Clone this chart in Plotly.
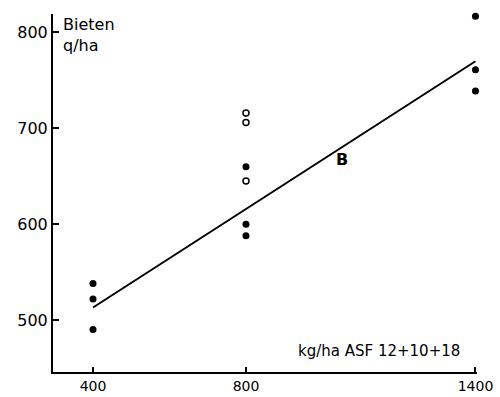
import plotly.graph_objects as go

# Data
x_filled = [400, 400, 400, 800, 800, 800, 1400, 1400, 1400]
y_filled = [538, 522, 490, 660, 600, 588, 817, 761, 739]
x_open = [800, 800, 800]
y_open = [716, 706, 645]
line_x = [400, 1400]
line_y = [513, 770]
x_ticks = [400, 800, 1400]
y_ticks = [500, 600, 700, 800]

font = "DejaVu Sans"
fig = go.Figure()
fig.add_trace(go.Scatter(x=line_x, y=line_y, mode="lines",
                         line=dict(color="black", width=2), showlegend=False))
fig.add_trace(go.Scatter(x=x_filled, y=y_filled, mode="markers", cliponaxis=False,
                         marker=dict(color="black", size=7), showlegend=False))
fig.add_trace(go.Scatter(x=x_open, y=y_open, mode="markers", cliponaxis=False,
                         marker=dict(color="white", size=6, line=dict(color="black", width=1.5)),
                         showlegend=False))

fig.add_annotation(x=1052, y=667, text="<b>B</b>", showarrow=False,
                   font=dict(family=font, size=16, color="black"))
fig.add_annotation(x=0.02, y=1.003, xref="paper", yref="paper",
                   text="Bieten<br>q/ha", showarrow=False, align="left",
                   xanchor="left", yanchor="top",
                   font=dict(family=font, size=16, color="black"))
fig.add_annotation(x=930, y=468, text="kg/ha ASF 12+10+18", showarrow=False,
                   xanchor="left", yanchor="middle",
                   font=dict(family=font, size=15, color="black"))

fig.update_xaxes(range=[295.4, 1404], tickvals=x_ticks, ticktext=[str(v) for v in x_ticks],
                 showline=True, linecolor="black", linewidth=2, showgrid=False, zeroline=False,
                 ticks="inside", ticklen=5, tickcolor="black", tickwidth=1.5, automargin=False,
                 tickfont=dict(family=font, size=14, color="black"))
fig.update_yaxes(range=[445.7, 819.3], tickvals=y_ticks, ticktext=[str(v) for v in y_ticks],
                 showline=True, linecolor="black", linewidth=2, showgrid=False, zeroline=False,
                 ticks="inside", ticklen=6, tickcolor="black", tickwidth=1.5, automargin=False,
                 tickfont=dict(family=font, size=16, color="black"))
fig.update_layout(width=500, height=397, margin=dict(l=53, r=23, t=14, b=25),
                  plot_bgcolor="white", paper_bgcolor="white")
fig.write_html("out.html")
